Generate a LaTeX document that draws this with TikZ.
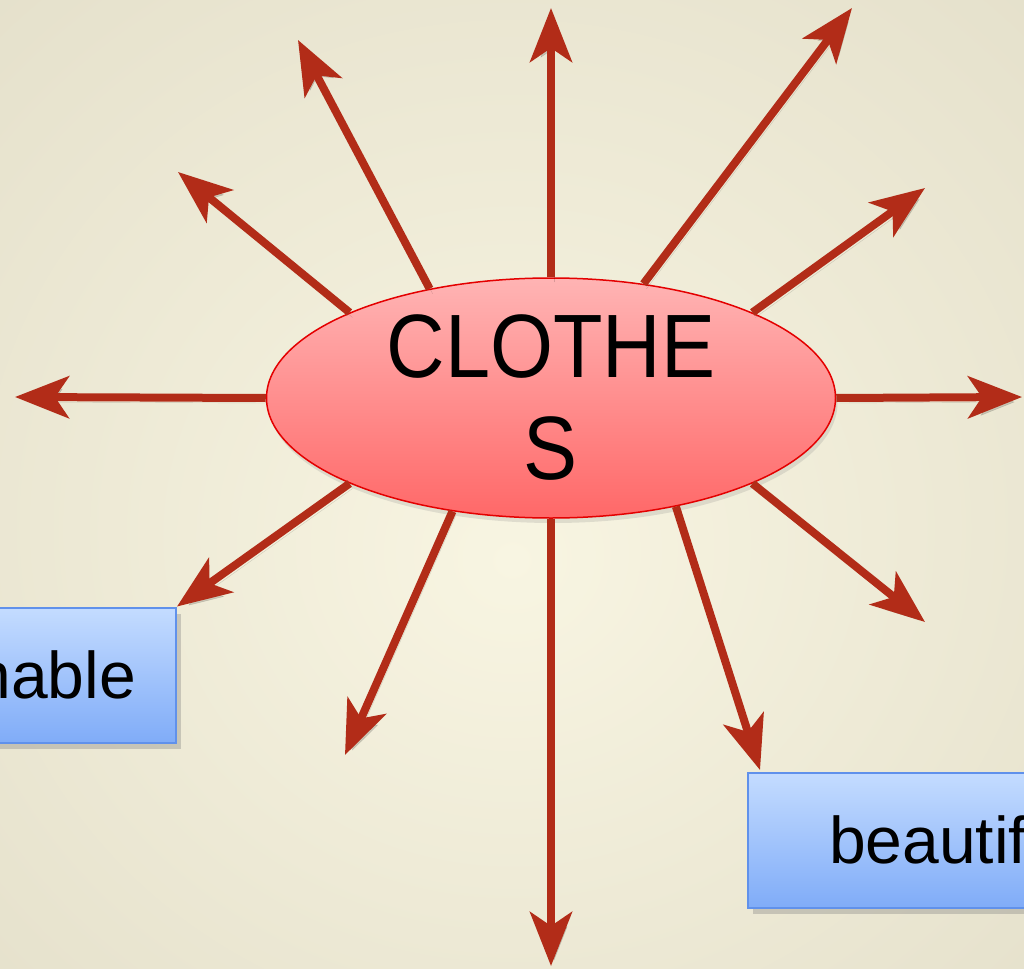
\documentclass[tikz,border=0pt]{standalone}
\usepackage{fontspec}
\setmainfont{Liberation Sans}
\newfontfamily\narrowsans[FakeStretch=0.9]{Liberation Sans}
\usetikzlibrary{arrows.meta,positioning,shapes.geometric,shadows}
\definecolor{raycol}{RGB}{178,44,24}
\definecolor{bgin}{RGB}{248,245,226}
\definecolor{bgout}{RGB}{221,216,194}
\definecolor{blobtop}{RGB}{255,180,180}
\definecolor{blobbot}{RGB}{255,104,104}
\definecolor{blobline}{RGB}{228,0,0}
\definecolor{boxtop}{RGB}{196,220,255}
\definecolor{boxbot}{RGB}{128,172,248}
\definecolor{boxline}{RGB}{96,145,235}
\pgfdeclareradialshading{bgglow}{\pgfpoint{0bp}{-4bp}}{color(0bp)=(bgin); color(52bp)=(bgout)}
\begin{document}
\begin{tikzpicture}[x=1pt,y=-1pt,
ray/.style={draw=raycol,line width=8pt,-{Stealth[length=54pt,width=42pt,inset=14pt]},
  preaction={draw=black,opacity=0.15,transform canvas={shift={(3pt,-5pt)}}}},
blob/.style={ellipse,draw=blobline,line width=1.5pt,top color=blobtop,bottom color=blobbot,
  minimum width=569pt,minimum height=240pt,inner sep=0pt,align=center,
  font=\narrowsans\fontsize{90}{102}\selectfont,
  drop shadow={opacity=0.2,shadow xshift=2pt,shadow yshift=-5pt}},
box/.style={draw=boxline,line width=2pt,top color=boxtop,bottom color=boxbot,
  minimum height=135pt,font=\fontsize{66}{70}\selectfont,
  drop shadow={opacity=0.35,shadow xshift=5pt,shadow yshift=-6pt}}]
\useasboundingbox (0,0) rectangle (1024,968);
\clip (0,0) rectangle (1024,968);
\shade[shading=bgglow] (0,0) rectangle (1024,968);
%centre and the two boxes
\begin{scope}
\node[blob] (clothes) at (551,398) {CLOTHE\\S};
\node[box,anchor=east,text width=247pt,inner xsep=40pt,align=right] (fashion) at (177,675) {nable};
\node[box,anchor=west,text width=291pt,inner xsep=81pt,align=left] (beauty) at (747,840) {beautif};
\end{scope}
%free ends of the rays
\coordinate (t1) at (298,40);
\coordinate (t2) at (178,172);
\coordinate (t3) at (551,8);
\coordinate (t4) at (852,8);
\coordinate (t5) at (925,188);
\coordinate (t6) at (1022,397);
\coordinate (t7) at (925,622);
\coordinate (t8) at (760,770);
\coordinate (t9) at (551,966);
\coordinate (t10) at (345,755);
\coordinate (t12) at (15,397);
\begin{scope}
\draw[ray] (clothes.138) -- (t1);
\draw[ray] (clothes.157) -- (t2);
\draw[ray] (clothes.90) -- (t3);
\draw[ray] (clothes.51) -- (t4);
\draw[ray] (clothes.23) -- (t5);
\draw[ray] (clothes.0) -- (t6);
\draw[ray] (clothes.-23) -- (t7);
\draw[ray] (clothes.-41.5) -- (t8);
\draw[ray] (clothes.270) -- (t9);
\draw[ray] (clothes.229) -- (t10);
\draw[ray] (clothes.203) -- (fashion.north east);
\draw[ray] (clothes.180) -- (t12);
\end{scope}
\end{tikzpicture}
\end{document}
